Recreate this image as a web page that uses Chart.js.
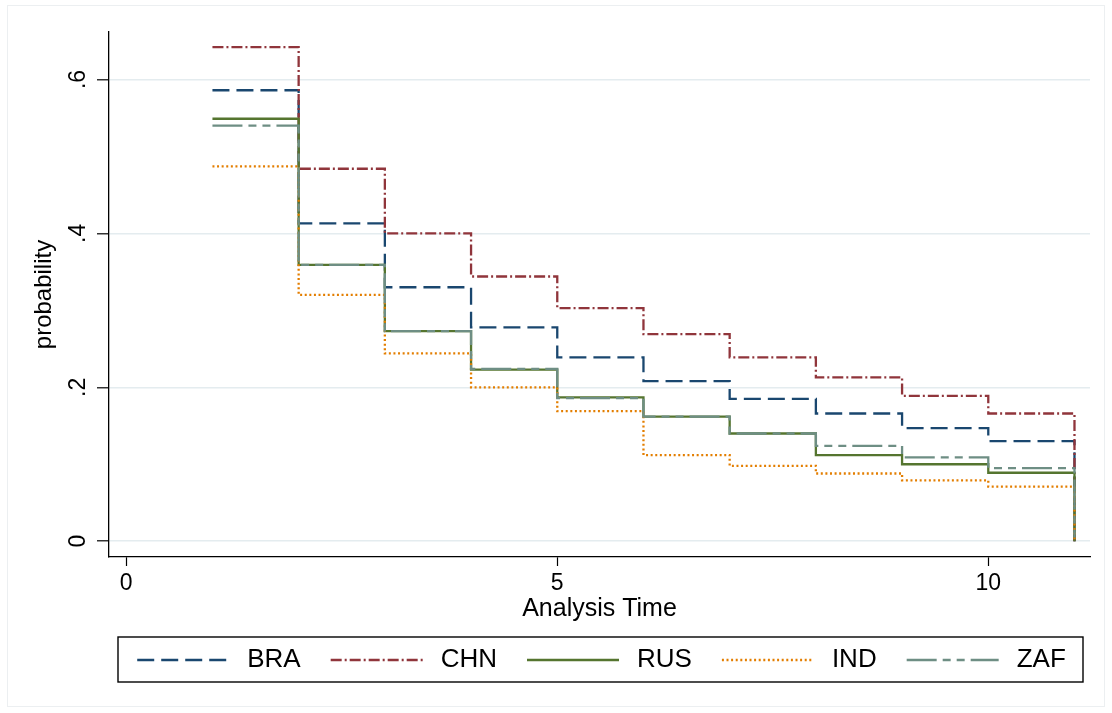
<!DOCTYPE html>
<html>
<head>
<meta charset="utf-8">
<script src="https://cdn.jsdelivr.net/npm/chart.js@4.4.1/dist/chart.umd.min.js"></script>
<style>
  html, body { margin: 0; padding: 0; background: #ffffff; }
  #wrap { width: 1112px; height: 713px; position: relative; }
</style>
</head>
<body>
<div id="wrap"><canvas id="c" width="1112" height="713"></canvas></div>
<script>
// Analysis times (step points) and survival probabilities per country
const times = [1, 2, 3, 4, 5, 6, 7, 8, 9, 10, 11];
const BRA = [0.586, 0.413, 0.330, 0.278, 0.239, 0.208, 0.185, 0.166, 0.147, 0.130, 0];
const CHN = [0.642, 0.484, 0.400, 0.344, 0.303, 0.269, 0.239, 0.213, 0.189, 0.166, 0];
const RUS = [0.549, 0.359, 0.273, 0.223, 0.187, 0.162, 0.140, 0.112, 0.100, 0.089, 0];
const IND = [0.487, 0.320, 0.244, 0.200, 0.169, 0.112, 0.098, 0.088, 0.079, 0.071, 0];
const ZAF = [0.540, 0.359, 0.273, 0.224, 0.186, 0.162, 0.140, 0.124, 0.109, 0.095, 0];
const seriesNames = ['BRA', 'CHN', 'RUS', 'IND', 'ZAF'];
const xTicks = [0, 5, 10];
const yTicks = [0, 0.2, 0.4, 0.6];

const FONT = "'Liberation Sans', Arial, Helvetica, sans-serif";

// Stata s2color-like palette and line patterns
const styles = {
  BRA: { color: '#1a476f', dash: [17, 7] },
  CHN: { color: '#90353b', dash: [11, 3, 2, 3] },
  RUS: { color: '#55752f', dash: [] },
  IND: { color: '#e37e00', dash: [2, 2.6] },
  ZAF: { color: '#6e8e84', dash: [30, 6, 8, 6, 8, 6] }
};
const values = { BRA, CHN, RUS, IND, ZAF };

const datasets = seriesNames.map((name, i) => ({
  label: name,
  data: times.map((t, k) => ({ x: t, y: values[name][k] })),
  borderColor: styles[name].color,
  backgroundColor: styles[name].color,
  borderDash: styles[name].dash,
  borderWidth: 2.3,
  borderCapStyle: 'butt',
  borderJoinStyle: 'miter',
  stepped: 'before',
  pointRadius: 0,
  fill: false,
  order: seriesNames.length - 1 - i
}));

// Light frame around the whole graph region
const framePlugin = {
  id: 'frame',
  beforeDraw(chart) {
    const ctx = chart.ctx;
    ctx.save();
    ctx.fillStyle = '#ffffff';
    ctx.fillRect(0, 0, chart.width, chart.height);
    ctx.strokeStyle = '#eceff1';
    ctx.lineWidth = 1;
    ctx.strokeRect(7.5, 5.5, chart.width - 15, chart.height - 12);
    ctx.restore();
  }
};

// Boxed legend row below the axis title
const legendPlugin = {
  id: 'boxLegend',
  afterDraw(chart) {
    const ctx = chart.ctx;
    const boxL = 118, boxR = 1083, boxT = 637, boxB = 682;
    const midY = (boxT + boxB) / 2 + 0.5;
    const lineLen = 92, textGap = 18, itemGap = 30;
    ctx.save();
    ctx.font = `26px ${FONT}`;
    const items = chart.data.datasets.map(ds => ({ ds, w: ctx.measureText(ds.label).width }));
    const total = items.reduce((s, it) => s + lineLen + textGap + it.w, 0) + itemGap * (items.length - 1);
    let x = (boxL + boxR) / 2 + 1 - total / 2;
    ctx.strokeStyle = '#000';
    ctx.lineWidth = 1.4;
    ctx.strokeRect(boxL, boxT, boxR - boxL, boxB - boxT);
    items.forEach(it => {
      ctx.beginPath();
      ctx.setLineDash(it.ds.borderDash || []);
      ctx.strokeStyle = it.ds.borderColor;
      ctx.lineWidth = 2.4;
      ctx.lineCap = 'butt';
      ctx.moveTo(x, midY);
      ctx.lineTo(x + lineLen, midY);
      ctx.stroke();
      ctx.setLineDash([]);
      ctx.fillStyle = '#000';
      ctx.textAlign = 'left';
      ctx.textBaseline = 'middle';
      ctx.fillText(it.ds.label, x + lineLen + textGap, midY);
      x += lineLen + textGap + it.w + itemGap;
    });
    ctx.restore();
  }
};

new Chart(document.getElementById('c'), {
  type: 'line',
  data: { datasets },
  plugins: [framePlugin, legendPlugin],
  options: {
    responsive: false,
    devicePixelRatio: 1,
    animation: false,
    layout: { padding: { left: 0, top: 32, right: 22, bottom: 76 } },
    plugins: {
      legend: { display: false },
      tooltip: { enabled: false }
    },
    scales: {
      x: {
        type: 'linear',
        position: 'bottom',
        min: -0.2,
        max: 11.18,
        afterBuildTicks(scale) { scale.ticks = xTicks.map(v => ({ value: v })); },
        afterFit(scale) { scale.height = 80; },
        ticks: {
          color: '#000',
          font: { family: FONT, size: 23 },
          padding: 4,
          maxRotation: 0,
          minRotation: 0,
          callback: v => String(v)
        },
        grid: {
          drawOnChartArea: false,
          drawTicks: true,
          tickLength: 9,
          tickColor: '#000',
          tickWidth: 1.2
        },
        border: { display: true, color: '#000', width: 1.3 },
        title: {
          display: true,
          text: 'Analysis Time',
          color: '#000',
          font: { family: FONT, size: 25 },
          padding: { top: 0, bottom: 13 }
        }
      },
      y: {
        type: 'linear',
        min: -0.0205,
        max: 0.6617,
        afterBuildTicks(scale) { scale.ticks = yTicks.map(v => ({ value: v })); },
        afterFit(scale) { scale.width = 109; },
        ticks: {
          color: '#000',
          font: { family: FONT, size: 23 },
          minRotation: 90,
          maxRotation: 90,
          crossAlign: 'center',
          padding: 9,
          callback: v => (v === 0 ? '0' : String(v).replace(/^0\./, '.'))
        },
        grid: {
          color: '#e4ecef',
          lineWidth: 1.6,
          drawOnChartArea: true,
          drawTicks: true,
          tickLength: 12,
          tickColor: '#000',
          tickWidth: 1.2
        },
        border: { display: true, color: '#000', width: 1.3 },
        title: {
          display: true,
          text: 'probability',
          color: '#000',
          font: { family: FONT, size: 24 },
          padding: { top: 30, bottom: 0 }
        }
      }
    }
  }
});
</script>
</body>
</html>
